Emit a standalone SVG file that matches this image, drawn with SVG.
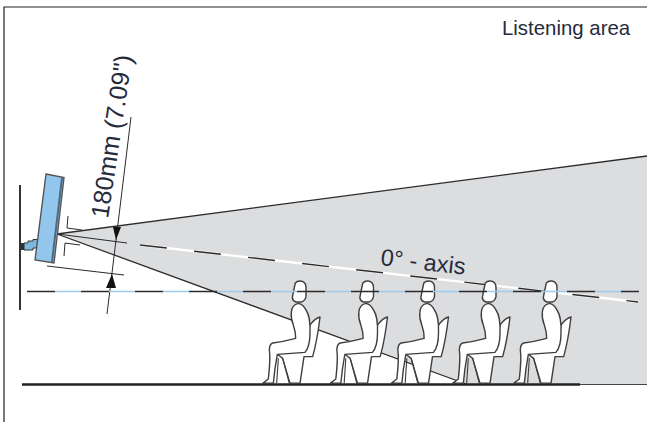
<svg xmlns="http://www.w3.org/2000/svg" width="647" height="422" viewBox="0 0 647 422">
<style>
.ln{fill:none;stroke:#2b2b2d;stroke-width:1}
.lbl{font-family:"Liberation Sans",Arial,sans-serif;fill:#262b3c}
.p{fill:#fff;stroke:#3f3f41;stroke-width:4.2;stroke-linejoin:round}
.t{fill:none;stroke:#3f3f41;stroke-width:3.4}
.arr{fill:#111}
</style>
<defs>
<g id="person">
<path class="p" d="M55,240L68,250L90,325H120L132,245H158Q172,195 180,126Q165,130 150,150L140,225L55,235Z"/>
<path class="t" d="M55,250L50,325M68,250L88,325"/>
<path class="p" d="M115,85Q95,90 94,112Q92,130 100,150Q107,170 107,190Q70,200 38,204Q28,208 28,225Q32,250 25,312L8,325H40Q44,280 52,238L135,232Q150,215 150,175Q152,125 138,105Q130,88 115,85Z"/>
<path class="p" d="M106,24Q112,17 122,18Q138,20 138,38V65Q135,78 124,81H108Q98,78 97,68Q100,50 106,24Z"/>
</g>
</defs>
<rect width="647" height="422" fill="#fff"/>
<path d="M647,7H4V422" fill="none" stroke="#222" stroke-width="1.2"/>
<path d="M57,234L647,156V384H466Z" fill="#dcddde"/>
<g id="connectors">
<path class="ln" style="stroke-width:1.3" d="M57,234L647,156M57,234L466,384"/>
<path d="M140,245L638,302" stroke="#fff" stroke-width="2.4" fill="none"/>
<path d="M140,245L638,302" stroke="#2b2b2d" stroke-width="1.4" stroke-dasharray="27 27.400" fill="none"/>
<path class="ln" d="M107,314L131,117M47,266L124,275M50,233L127,243M68,216L67,228L82,230M64,256L65,243L80,245"/>
<path class="arr" d="M113,227L121,227L116,240Z"/>
<path class="arr" d="M112,274L106,288L116,288Z"/>
<path d="M20,185V310" stroke="#333" stroke-width="2"/>
<path d="M22,384.500H580" stroke="#222" stroke-width="2.400"/>
<path d="M580,384.500H647" stroke="#444" stroke-width="1"/>
</g>
<g id="speaker">
<path d="M21,243H24V250H21Z" fill="#333"/>
<path d="M24,243H28V241H33V239.500H38V248H33V250H24Z" fill="#7db8e0" stroke="#333" stroke-width="1"/>
<path d="M46,174L64,177.500L54,263L35,260Z" fill="#93c6ec" stroke="#555" stroke-width="1.400"/>
<path d="M61,178L63,178L53,262L51,262Z" fill="#4d6a80"/>
</g>
<g id="listener-1"><use href="#person" transform="translate(260,275) scale(.3333)"/></g>
<g id="listener-2"><use href="#person" transform="translate(327.500,275) scale(.3333)"/></g>
<g id="listener-3"><use href="#person" transform="translate(388.500,275) scale(.3333)"/></g>
<g id="listener-4"><use href="#person" transform="translate(450,275) scale(.3333)"/></g>
<g id="listener-5"><use href="#person" transform="translate(511,275) scale(.3333)"/></g>
<g id="reference-axis">
<path d="M27,291.500H639" stroke="#9ccbee" stroke-width="1.300" fill="none" stroke-dasharray="26 28" stroke-dashoffset="-28"/>
<path d="M27,291.500H639" stroke="#2b2b2d" stroke-width="1.300" stroke-dasharray="28 26" fill="none"/>
</g>
<text class="lbl" x="502" y="35" font-size="20.400">Listening area</text>
<text class="lbl" transform="translate(108,219) rotate(-81.500)" font-size="25">180mm (7.09")</text>
<text class="lbl" transform="translate(380,265) rotate(6.500)" font-size="23.500">0° - axis</text>
</svg>
